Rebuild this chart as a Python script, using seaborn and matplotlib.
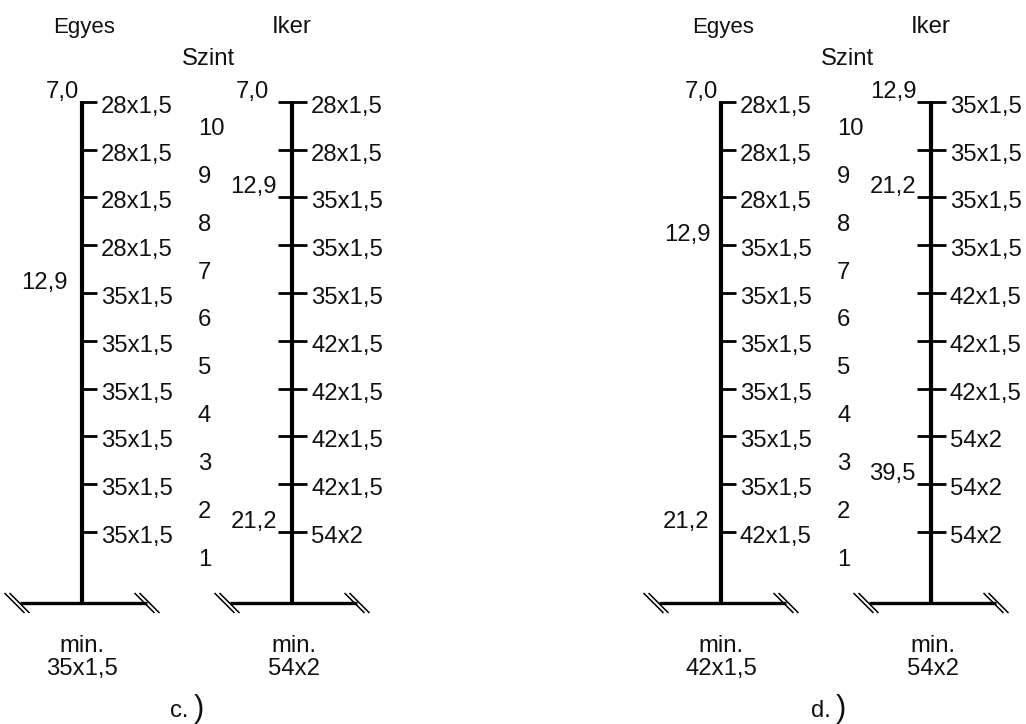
import matplotlib
matplotlib.use("Agg")
import matplotlib.pyplot as plt
import pandas as pd
import seaborn as sns

sns.set_theme(style="white")
plt.rcParams["font.family"] = ["Liberation Sans", "DejaVu Sans"]

floors = [10, 9, 8, 7, 6, 5, 4, 3, 2, 1]
c_egyes = ["28x1,5"] * 4 + ["35x1,5"] * 6
c_iker = ["28x1,5"] * 2 + ["35x1,5"] * 3 + ["42x1,5"] * 4 + ["54x2"]
d_egyes = ["28x1,5"] * 3 + ["35x1,5"] * 6 + ["42x1,5"]
d_iker = ["35x1,5"] * 4 + ["42x1,5"] * 3 + ["54x2"] * 3
c_egyes_flow = [(10, "7,0", -3), (6, "12,9", -14)]
c_iker_flow = [(10, "7,0", -23), (8, "12,9", -15), (1, "21,2", -15)]
d_egyes_flow = [(10, "7,0", -3), (7, "12,9", -10), (1, "21,2", -12)]
d_iker_flow = [(10, "12,9", -14), (8, "21,2", -15), (2, "39,5", -15)]
min_c = ["35x1,5", "54x2"]
min_d = ["42x1,5", "54x2"]

PX_PER_FLOOR = 47.8
FLOOR1_PX = 532
FS = 17.2
INK = "#111111"


def py(px):
    return 1 + (FLOOR1_PX - px) / PX_PER_FLOOR


def dy(px):
    return -px / PX_PER_FLOOR


fig = plt.figure(figsize=(10.26, 7.24), dpi=100)
ax = fig.add_axes([0, 0, 1, 1])
ax.set_xlim(0, 1026)
ax.set_ylim(py(724), py(0))
BASE = py(603)


def draw(df, lw):
    sns.lineplot(data=df, x="x", y="y", units="seg", estimator=None, sort=False,
                 color="black", linewidth=lw, legend=False, ax=ax,
                 solid_capstyle="butt", errorbar=None)


def riser(x0, sizes, flows, mn, left_tick, min_dx=0):
    draw(pd.DataFrame({"x": [x0, x0], "y": [py(100.5), BASE], "seg": [0, 0]}), 3.0)
    xa = x0 - 14 if left_tick else x0
    xb = x0 + 15
    rows = []
    for i, (f, s) in enumerate(zip(floors, sizes)):
        rows += [(xa, float(f), i), (xb, float(f), i)]
        ax.text(x0 + 19, f + dy(11), s, fontsize=FS, ha="left", va="baseline", color=INK)
    draw(pd.DataFrame(rows, columns=["x", "y", "seg"]), 2.0)
    draw(pd.DataFrame({"x": [x0 - 62, x0 + 65], "y": [BASE, BASE], "seg": [0, 0]}), 2.4)
    rows = []
    seg = 0
    for end in (x0 - 65, x0 + 65):
        for off in (-2.5, 2.5):
            rows += [(end - 10 + off, BASE - dy(10), seg),
                     (end + 10 + off, BASE + dy(10), seg)]
            seg += 1
    draw(pd.DataFrame(rows, columns=["x", "y", "seg"]), 1.1)
    for f, t, off in flows:
        ax.text(x0 + off, f + dy(-4), t, fontsize=FS, ha="right", va="baseline", color=INK)
    ax.text(x0 + min_dx, py(652), "min.", fontsize=FS, ha="center", va="baseline", color=INK)
    ax.text(x0 + min_dx, py(675), mn, fontsize=FS, ha="center", va="baseline", color=INK)


def panel(dx, eg, ik, egf, ikf, mins, name, name_x, paren_x):
    riser(82 + dx, eg, egf, mins[0], False)
    riser(292 + dx, ik, ikf, mins[1], True, 2)
    ax.text(84 + dx, py(33), "Egyes", fontsize=16, ha="center", va="baseline", color=INK)
    ax.text(291.5 + dx, py(33), "Iker", fontsize=FS, ha="center", va="baseline", color=INK)
    ax.text(208.5 + dx, py(65), "Szint", fontsize=FS, ha="center", va="baseline", color=INK)
    for f in floors:
        ax.text(198 + dx, f + dy(33.5), str(f), fontsize=FS, ha="left", va="baseline", color=INK)
    ax.text(name_x, py(717), name, fontsize=FS, ha="left", va="baseline", color=INK)
    ax.text(paren_x, py(717), ")", fontsize=22, ha="left", va="baseline", color=INK)


panel(0, c_egyes, c_iker, c_egyes_flow, c_iker_flow, min_c, "c.", 170, 194)
panel(639, d_egyes, d_iker, d_egyes_flow, d_iker_flow, min_d, "d.", 811, 836)

ax.set_axis_off()
fig.savefig("out.png", dpi=100)
